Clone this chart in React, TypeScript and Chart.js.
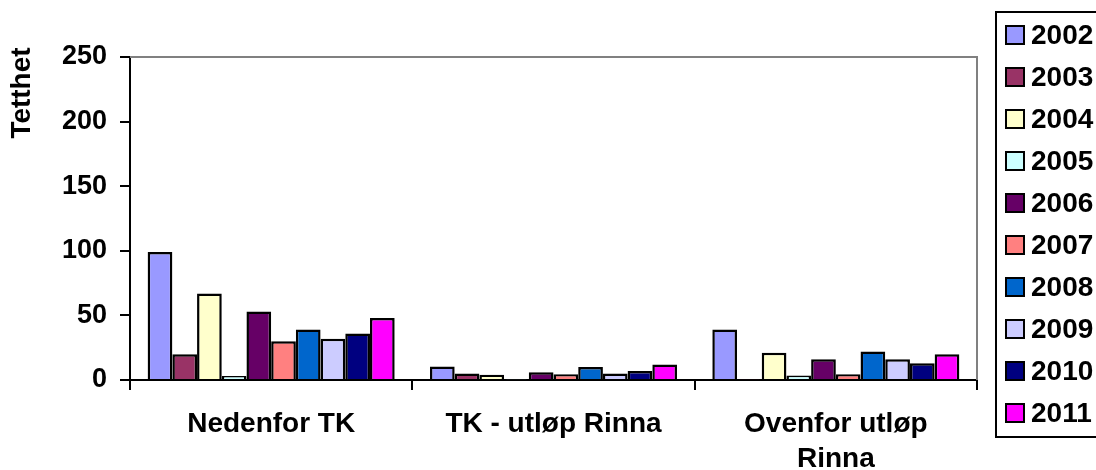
import React, { useEffect, useRef } from "react";
import { Chart, registerables } from "chart.js";

Chart.register(...registerables);

// ---- data ----
const categories: (string | string[])[] = [
  "Nedenfor TK",
  "TK - utløp Rinna",
  ["Ovenfor utløp", "Rinna"],
];
const years = ["2002", "2003", "2004", "2005", "2006", "2007", "2008", "2009", "2010", "2011"];
const colors = [
  "#9999FF",
  "#993366",
  "#FFFFCC",
  "#CCFFFF",
  "#660066",
  "#FF8080",
  "#0066CC",
  "#CCCCFF",
  "#000080",
  "#FF00FF",
];
const v2002 = [99, 10.5, 39];
const v2003 = [20, 5, 0.5];
const v2004 = [67, 4, 21];
const v2005 = [3, 0.5, 3.5];
const v2006 = [53, 6, 16];
const v2007 = [30, 4.5, 4.5];
const v2008 = [39, 10, 22];
const v2009 = [32, 5, 16];
const v2010 = [36, 7, 13];
const v2011 = [48, 12, 20];
const seriesValues = [v2002, v2003, v2004, v2005, v2006, v2007, v2008, v2009, v2010, v2011];
const yTicks = [0, 50, 100, 150, 200, 250];
const yTitle = "Tetthet";

const FONT = "'Liberation Sans', Arial, sans-serif";

const decorPlugin = {
  id: "decor",
  afterDraw(chart: any) {
    const ctx = chart.ctx;
    const a = chart.chartArea;
    ctx.save();
    // gray top & right plot border
    ctx.strokeStyle = "#808080";
    ctx.lineWidth = 2;
    ctx.beginPath();
    ctx.moveTo(a.left, a.top);
    ctx.lineTo(a.right, a.top);
    ctx.lineTo(a.right, a.bottom);
    ctx.stroke();

    // y title
    ctx.fillStyle = "#000";
    ctx.font = `bold 28px ${FONT}`;
    ctx.textAlign = "center";
    ctx.textBaseline = "middle";
    ctx.translate(22, 93);
    ctx.rotate(-Math.PI / 2);
    ctx.fillText(yTitle, 0, 0);
    ctx.restore();

    // legend
    ctx.save();
    const boxL = 996, boxT = 12, boxB = 437;
    ctx.strokeStyle = "#000";
    ctx.lineWidth = 2;
    ctx.strokeRect(boxL, boxT, 200, boxB - boxT);
    ctx.font = `bold 28px ${FONT}`;
    ctx.textAlign = "left";
    ctx.textBaseline = "middle";
    chart.data.datasets.forEach((ds: any, i: number) => {
      const cy = 35 + i * 42;
      ctx.fillStyle = ds.backgroundColor;
      ctx.fillRect(1006, cy - 9, 18, 18);
      ctx.lineWidth = 2;
      ctx.strokeStyle = "#000";
      ctx.strokeRect(1006, cy - 9, 18, 18);
      ctx.fillStyle = "#000";
      ctx.fillText(ds.label, 1031, cy + 1);
    });
    ctx.restore();
  },
};

export default function App() {
  const ref = useRef<HTMLCanvasElement>(null);
  useEffect(() => {
    document.body.style.margin = "0";
    const canvas = ref.current!;
    const chart = new Chart(canvas, {
      type: "bar",
      data: {
        labels: categories as any,
        datasets: years.map((y, i) => ({
          label: y,
          data: seriesValues[i],
          backgroundColor: colors[i],
          borderColor: "#000",
          borderWidth: 2.5,
          categoryPercentage: 0.875,
          barPercentage: 1,
        })),
      },
      options: {
        animation: false,
        responsive: false,
        maintainAspectRatio: false,
        layout: { padding: { left: 0, right: 119, top: 57, bottom: 0 } },
        plugins: {
          legend: { display: false },
          tooltip: { enabled: false },
        },
        scales: {
          x: {
            grid: {
              drawOnChartArea: false,
              drawTicks: true,
              tickLength: 10,
              color: "#000",
              lineWidth: 2,
              offset: true,
            },
            border: { color: "#000", width: 2 },
            ticks: {
              color: "#000",
              font: { family: FONT, size: 28, weight: "bold", lineHeight: 1.25 },
              padding: 17,
              maxRotation: 0,
              autoSkip: false,
            },
            afterFit: (s: any) => {
              s.height = 90;
            },
          },
          y: {
            min: 0,
            max: 250,
            afterBuildTicks: (s: any) => {
              s.ticks = yTicks.map((v) => ({ value: v }));
            },
            grid: {
              drawOnChartArea: false,
              drawTicks: true,
              tickLength: 10,
              color: "#000",
              lineWidth: 2,
            },
            border: { color: "#000", width: 2 },
            ticks: {
              color: "#000",
              font: { family: FONT, size: 27, weight: "bold" },
              padding: 13,
            },
            afterFit: (s: any) => {
              s.width = 130;
            },
          },
        },
      },
      plugins: [decorPlugin],
    });
    return () => chart.destroy();
  }, []);
  return (
    <canvas
      ref={ref}
      width={1096}
      height={470}
      style={{ display: "block", width: 1096, height: 470 }}
    />
  );
}
